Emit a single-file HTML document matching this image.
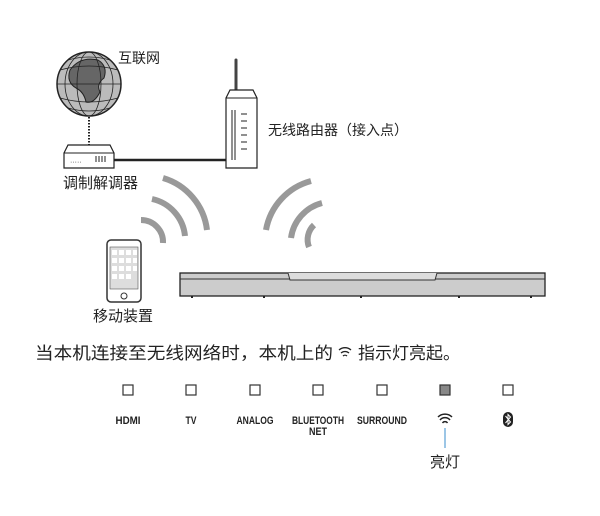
<!DOCTYPE html>
<html><head><meta charset="utf-8"><style>
body{margin:0;background:#fff;}
svg text{font-family:"Liberation Sans","Noto Sans CJK SC",sans-serif;}
</style></head><body>
<svg width="600" height="511" viewBox="0 0 600 511" xmlns="http://www.w3.org/2000/svg">
<!-- globe -->
<circle cx="89" cy="84" r="32" fill="#bbb" stroke="#222" stroke-width="1.5"/>
<path d="M70 70 q10 -14 28 -10 q10 6 6 18 q-8 6 -4 14 q-6 12 -14 10 q-2 -10 -10 -14 q-10 -6 -6 -18z" fill="#666" stroke="#222"/>
<g fill="none" stroke="#222" stroke-width="0.8">
<ellipse cx="89" cy="84" rx="12" ry="32"/><ellipse cx="89" cy="84" rx="24" ry="32"/>
<line x1="57" y1="84" x2="121" y2="84"/><path d="M60 70 q29 -8 58 0 M60 98 q29 8 58 0 M68 60 q21 -6 42 0 M68 108 q21 6 42 0"/>
</g>
<text x="118" y="63" font-size="14" fill="#222">互联网</text>
<line x1="89" y1="117" x2="89" y2="146" stroke="#222" stroke-width="2" stroke-dasharray="1.5 1.5"/>
<!-- modem -->
<path d="M68 145 L110 145 L114 153 L114 168 L64 168 L64 153 Z" fill="#fff" stroke="#222" stroke-width="1.2"/>
<line x1="64" y1="153" x2="114" y2="153" stroke="#222"/>
<text x="70" y="164" font-size="7" fill="#222">·····</text>
<path d="M96 156v6M99 156v6M102 156v6M105 156v6" stroke="#222"/>
<line x1="114" y1="160" x2="226" y2="160" stroke="#222" stroke-width="2.5"/>
<text x="63" y="188" font-size="15" fill="#222">调制解调器</text>
<!-- router -->
<line x1="236" y1="60" x2="236" y2="92" stroke="#444" stroke-width="3" stroke-linecap="round"/>
<path d="M230 90 L253 90 L257 98 L257 168 L226 168 L226 98 Z" fill="#fff" stroke="#222" stroke-width="1.2"/>
<line x1="226" y1="98" x2="257" y2="98" stroke="#222"/>
<path d="M232 110v50M235 110v50M241 114h6M241 121h6M241 128h6M241 135h6M241 142h6M241 149h6" stroke="#222"/>
<text x="268" y="135" font-size="14" fill="#222">无线路由器（接入点）</text>
<!-- waves -->
<g fill="none" stroke="#999" stroke-width="6">
<path d="M141 220 A22 22 0 0 1 163 243"/>
<path d="M152 199 A42 42 0 0 1 185 236"/>
<path d="M163 178 A62 62 0 0 1 207 230"/>
<path d="M314 225 A20 20 0 0 0 309 247"/>
<path d="M322 203 A42 42 0 0 0 291 238"/>
<path d="M311 181 A62 62 0 0 0 266 230"/>
</g>
<!-- phone -->
<rect x="107" y="240" width="34" height="62" rx="4" fill="#fff" stroke="#333" stroke-width="1.5"/>
<rect x="110" y="247" width="28" height="42" fill="#ddd" stroke="#555" stroke-width="0.6"/>
<g fill="#fff"><rect x="112" y="250" width="5" height="5"/><rect x="119" y="250" width="5" height="5"/><rect x="126" y="250" width="5" height="5"/><rect x="133" y="250" width="4" height="5"/>
<rect x="112" y="258" width="5" height="5"/><rect x="119" y="258" width="5" height="5"/><rect x="126" y="258" width="5" height="5"/><rect x="133" y="258" width="4" height="5"/>
<rect x="112" y="266" width="5" height="5"/><rect x="119" y="266" width="5" height="5"/><rect x="126" y="266" width="5" height="5"/><rect x="133" y="266" width="4" height="5"/>
<rect x="112" y="274" width="5" height="5"/><rect x="119" y="274" width="5" height="5"/><rect x="126" y="274" width="5" height="5"/></g>
<circle cx="124" cy="296" r="3" fill="#fff" stroke="#333"/>
<text x="93" y="321" font-size="15" fill="#222">移动装置</text>
<!-- soundbar -->
<rect x="180" y="273" width="365" height="23" fill="#ccc" stroke="#222" stroke-width="1.3"/>
<line x1="180" y1="279" x2="545" y2="279" stroke="#333"/>
<path d="M288 273 L290 280 L435 280 L437 273" fill="#ddd" stroke="#333"/>
<path d="M192 296v2M264 296v2M361 296v2M459 296v2M531 296v2" stroke="#222" stroke-width="2"/>
<!-- sentence -->
<text x="35" y="359" font-size="17" fill="#222" textLength="298" lengthAdjust="spacingAndGlyphs">当本机连接至无线网络时，本机上的</text>
<g fill="none" stroke="#222" stroke-width="1.3"><path d="M339 350 a9 9 0 0 1 12 0 M341 353 a6 6 0 0 1 8 0 M343 356 a3 3 0 0 1 4 0"/></g>
<text x="358" y="359" font-size="17" fill="#222" textLength="102" lengthAdjust="spacingAndGlyphs">指示灯亮起。</text>
<!-- indicators -->
<g fill="#fff" stroke="#333" stroke-width="1.2">
<rect x="123" y="385" width="10" height="10"/><rect x="186" y="385" width="10" height="10"/><rect x="250" y="385" width="10" height="10"/><rect x="313" y="385" width="10" height="10"/><rect x="377" y="385" width="10" height="10"/><rect x="440" y="385" width="10" height="10" fill="#888"/><rect x="503" y="385" width="10" height="10"/>
</g>
<g font-size="11" fill="#222" text-anchor="middle" font-weight="bold">
<text x="128" y="424" textLength="25" lengthAdjust="spacingAndGlyphs">HDMI</text>
<text x="191" y="424" textLength="11" lengthAdjust="spacingAndGlyphs">TV</text>
<text x="255" y="424" textLength="37" lengthAdjust="spacingAndGlyphs">ANALOG</text>
<text x="318" y="424" textLength="52" lengthAdjust="spacingAndGlyphs">BLUETOOTH</text>
<text x="318" y="435" textLength="18" lengthAdjust="spacingAndGlyphs">NET</text>
<text x="382" y="424" textLength="50" lengthAdjust="spacingAndGlyphs">SURROUND</text>
</g>
<g fill="none" stroke="#222" stroke-width="1.5"><path d="M438 417 a10 10 0 0 1 14 0 M440 420 a6.5 6.5 0 0 1 10 0 M442.5 423 a3 3 0 0 1 5 0"/></g>
<rect x="503" y="412" width="10" height="15" rx="5" fill="#222"/>
<path d="M505.5 416 L510.5 422 L508 424.5 L508 414.5 L510.5 417 L505.5 423" fill="none" stroke="#fff" stroke-width="1"/>
<line x1="445" y1="428" x2="445" y2="448" stroke="#3a8ccc" stroke-width="1"/>
<text x="445" y="467" font-size="15" fill="#222" text-anchor="middle">亮灯</text>
</svg>
</body></html>
